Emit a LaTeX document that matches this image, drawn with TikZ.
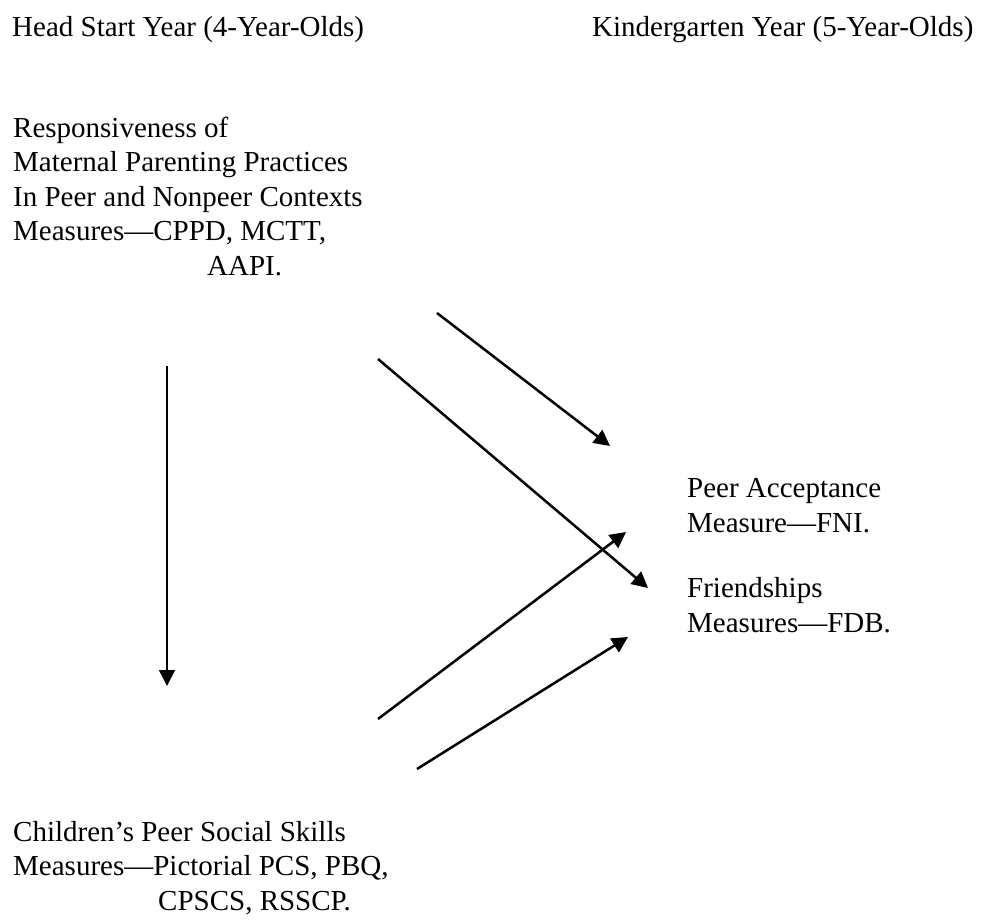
\documentclass[tikz,border=0pt]{standalone}
\usepackage{fontspec}
\setmainfont{Liberation Serif}
\usetikzlibrary{arrows.meta}
\begin{document}
\begin{tikzpicture}[x=1pt,y=-1pt,
  % multi-line labels are placed by the baseline of their last line
  lbl/.style={inner sep=0pt, align=left, anchor=base west,
    font=\fontsize{29}{34.5}\selectfont},
  link/.style={line width=2.5pt, -{Triangle[length=16pt,width=16pt]}}]
\useasboundingbox (0,0) rectangle (986,924);

% column headings
\node[lbl] (hs) at (12,36) {Head Start Year (4-Year-Olds)};
\node[lbl] (kg) at (592,36) {Kindergarten Year (5-Year-Olds)};

% constructs
\node[lbl] (mp) at (13,275) {Responsiveness of\\
  Maternal Parenting Practices\\
  In Peer and Nonpeer Contexts\\
  Measures---CPPD, MCTT,\\
  \hspace*{194pt}AAPI.};
\node[lbl] (ps) at (13,910) {Children's Peer Social Skills\\
  Measures---Pictorial PCS, PBQ,\\
  \hspace*{145pt}CPSCS, RSSCP.};
\node[lbl] (pa) at (687,532) {Peer Acceptance\\Measure---FNI.};
\node[lbl] (fr) at (687,632) {Friendships\\Measures---FDB.};

% arrow end points
\coordinate (a1s) at (167,366);  \coordinate (a1e) at (167,686);
\coordinate (a2s) at (437,313);  \coordinate (a2e) at (610,446);
\coordinate (a3s) at (378,359);  \coordinate (a3e) at (648,588);
\coordinate (a4s) at (378,719);  \coordinate (a4e) at (626,532);
\coordinate (a5s) at (417,769);  \coordinate (a5e) at (628,637);

\draw[link, line width=1.8pt] (a1s) -- (a1e);
\draw[link] (a2s) -- (a2e);
\draw[link] (a3s) -- (a3e);
\draw[link] (a4s) -- (a4e);
\draw[link] (a5s) -- (a5e);
\end{tikzpicture}
\end{document}
